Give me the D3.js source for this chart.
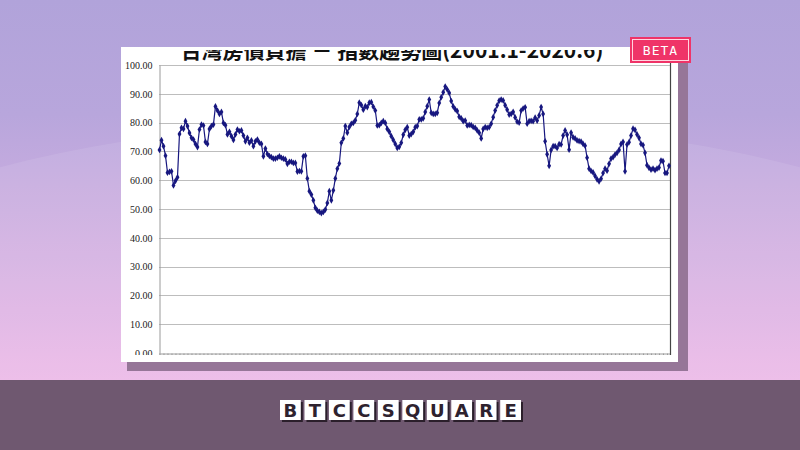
<!DOCTYPE html>
<html><head><meta charset="utf-8">
<script src="https://cdn.jsdelivr.net/npm/d3@7"></script>
<style>html,body{margin:0;padding:0;background:#b3a5dc;}svg{display:block;}</style>
</head><body>
<script>
const title = "台灣房價負擔 － 指數趨勢圖(2001.1-2020.6)";
const yTicks = [0,10,20,30,40,50,60,70,80,90,100];
const logoLetters = ["B","T","C","C","S","Q","U","A","R","E"];
const badgeText = "BETA";
const values = [
70.5,73.9,71.8,68.5,62.6,62.9,63.1,58.2,59.8,61,
76,78.2,77.8,80.5,78.8,76.4,74.7,74.1,72.6,71.5,
77.6,79.3,79,73.3,72.6,77.8,78.8,79.3,85.6,84.2,
83,83.7,79.9,79.1,75.9,76.8,75.3,74,75.9,77.6,
77,77.3,75.5,73.5,74.7,73,73.8,71.8,73.5,74.1,
73,72.6,68.3,71,69.1,68.4,68,67.5,67.5,67.8,
68.3,67.8,67.5,67.2,65.7,66.4,
66.4,66,66,63,63.2,63.1,68.3,68.5,60.6,56.2,
55,53,50.4,49.4,49,48.6,49,49.8,52.1,56.2,
53,56.5,60.6,64,65.8,73,74.5,78.8,76.5,78.5,
79.6,79.9,80.8,83,86.9,86.1,84.5,85.7,85.4,86.9,
87.1,85.5,84.2,79,79.1,79.9,80.5,79.9,77.8,76.8,
75.3,74,72.6,71.2,71.6,73,75.8,77.5,78.4,75.5,
76,76.8,78.4,78.8,81.1,
81.1,81.5,83.7,85.7,88,83.4,83,83,83.4,86.8,
88.8,90.5,92.5,91.5,90.3,87.5,85.6,84.6,84,82,
81.5,80.5,80.7,79,79.2,79.1,78.5,78.2,77.3,76.5,
74.5,77.8,78.4,78.2,78.4,79.6,81.9,84.2,86,87.6,
88,87.7,86,84.5,82.8,83,83.7,81.8,80.3,80,
84.2,84.9,85.3,79.6,80.5,80.6,80.5,81.7,80.7,82.5,
85.4,83,73.5,69,65,
70.5,71.8,71.8,71.2,72.5,72.4,75.5,77.3,75.8,70.6,
76.5,74.9,74.5,73.8,73.6,73.4,72.6,72,67.8,64,
63.2,62.7,61.5,60.3,59.6,60.5,62.5,64,63.3,65.7,
67.5,68,68.9,69.5,70.5,72.6,73.3,63.1,72.4,73.2,
75.5,77.9,77.5,75.9,74.7,72.6,72.2,69.5,65.2,64.3,
63.7,64,63.5,64,64.4,66.8,66.6,62.5,62.5,65
];

const W = 800, H = 450;
const svg = d3.select("body").append("svg").attr("width", W).attr("height", H);
const defs = svg.append("defs");

// background
const bg = defs.append("linearGradient").attr("id","bgGrad").attr("x1",0).attr("y1",0).attr("x2",0).attr("y2",1);
bg.append("stop").attr("offset","0%").attr("stop-color","#b1a3da");
bg.append("stop").attr("offset","30%").attr("stop-color","#b8a6dc");
bg.append("stop").attr("offset","100%").attr("stop-color","#ecb9e7");
svg.append("rect").attr("width",W).attr("height",380).attr("fill","url(#bgGrad)");
svg.append("ellipse").attr("cx",400).attr("cy",400).attr("rx",720).attr("ry",280)
  .attr("fill","#ffffff").attr("opacity",0.09);

// bottom bar
svg.append("rect").attr("x",0).attr("y",380).attr("width",W).attr("height",70).attr("fill","#6f5870");

// card shadow + card
svg.append("rect").attr("x",127).attr("y",54).attr("width",561).attr("height",317).attr("fill","#967698");
svg.append("rect").attr("x",121).attr("y",47).attr("width",557).attr("height",315).attr("fill","#ffffff");

defs.append("clipPath").attr("id","chartClip").append("rect")
  .attr("x",121).attr("y",47).attr("width",557).attr("height",308);
defs.append("clipPath").attr("id","titleClip").append("rect")
  .attr("x",121).attr("y",50).attr("width",557).attr("height",20);
const chart = svg.append("g").attr("clip-path","url(#chartClip)");

const x = d3.scaleLinear().domain([0, values.length - 1]).range([159.5, 669]);
const y = d3.scaleLinear().domain([0, 100]).range([353, 65]);

// title (top cut off as in the reference)
svg.append("g").attr("clip-path","url(#titleClip)")
  .append("text").attr("x", 392).attr("y", 58).attr("text-anchor","middle")
  .attr("font-family","'Noto Sans CJK TC','Noto Sans CJK SC',sans-serif")
  .attr("font-weight","bold").attr("font-size",21).attr("fill","#111").text(title);

// gridlines
chart.append("g").selectAll("line").data(yTicks.filter(d => d > 0)).join("line")
  .attr("x1",159).attr("x2",670).attr("y1",d => Math.round(y(d)) + 0.5).attr("y2",d => Math.round(y(d)) + 0.5)
  .attr("stroke","#bdbdbd").attr("stroke-width",1);

// y axis
const yAxis = d3.axisLeft(y).tickValues(yTicks).tickSize(0).tickPadding(7).tickFormat(d3.format(".2f"));
const yg = chart.append("g").attr("transform","translate(159.5,0)").call(yAxis);
yg.select(".domain").attr("stroke","#9a9a9a");
yg.selectAll("text").attr("font-family","'Liberation Serif','Times New Roman',serif")
  .attr("font-size",10).attr("fill","#222");

// x axis
const xTickIdx = d3.range(0, values.length, 2);
const xAxis = d3.axisBottom(x).tickValues(xTickIdx).tickSize(2).tickFormat("");
const xg = chart.append("g").attr("transform","translate(0,353.5)").call(xAxis);
xg.select(".domain").attr("stroke","#9a9a9a").attr("d","M159,0.5H670");
xg.selectAll(".tick line").attr("stroke","#9a9a9a");

// right border
chart.append("line").attr("x1",670.5).attr("x2",670.5).attr("y1",47).attr("y2",355)
  .attr("stroke","#444").attr("stroke-width",1.2);

// series
const line = d3.line().x((d,i) => x(i)).y(d => y(d));
chart.append("path").datum(values).attr("d",line).attr("fill","none")
  .attr("stroke","#17177f").attr("stroke-width",1.2);
const sym = d3.symbol().type(d3.symbolDiamond).size(13);
chart.append("g").selectAll("path").data(values).join("path")
  .attr("transform",(d,i) => `translate(${x(i)},${y(d)})`)
  .attr("d",sym).attr("fill","#17177f");

// BETA badge
const badge = svg.append("g");
badge.append("rect").attr("x",630).attr("y",37).attr("width",61).attr("height",26).attr("fill","#ef3468");
badge.append("rect").attr("x",632.5).attr("y",39.5).attr("width",56).attr("height",21)
  .attr("fill","none").attr("stroke","#ffd5e0").attr("stroke-width",1);
badge.append("text").attr("x",660.5).attr("y",55).attr("text-anchor","middle")
  .attr("font-family","'DejaVu Sans Mono',monospace").attr("font-size",13)
  .attr("letter-spacing",1).attr("fill","#ffffff").text(badgeText);

// logo
const lx = d3.scaleBand().domain(d3.range(logoLetters.length)).range([280, 521]).paddingInner(0.15);
const logo = svg.append("g");
const cells = logo.selectAll("g").data(logoLetters).join("g")
  .attr("transform",(d,i) => `translate(${lx(i)},400)`);
cells.append("rect").attr("x",2).attr("y",2).attr("width",lx.bandwidth()).attr("height",20).attr("fill","#2b1f2b");
cells.append("rect").attr("x",0).attr("y",0).attr("width",lx.bandwidth()).attr("height",20).attr("fill","#ffffff");
cells.append("text").attr("x",lx.bandwidth()/2).attr("y",16.5).attr("text-anchor","middle")
  .attr("font-family","'DejaVu Sans',sans-serif").attr("font-weight","bold").attr("font-size",18)
  .attr("fill","#2e222e").text(d => d);
</script>
</body></html>
